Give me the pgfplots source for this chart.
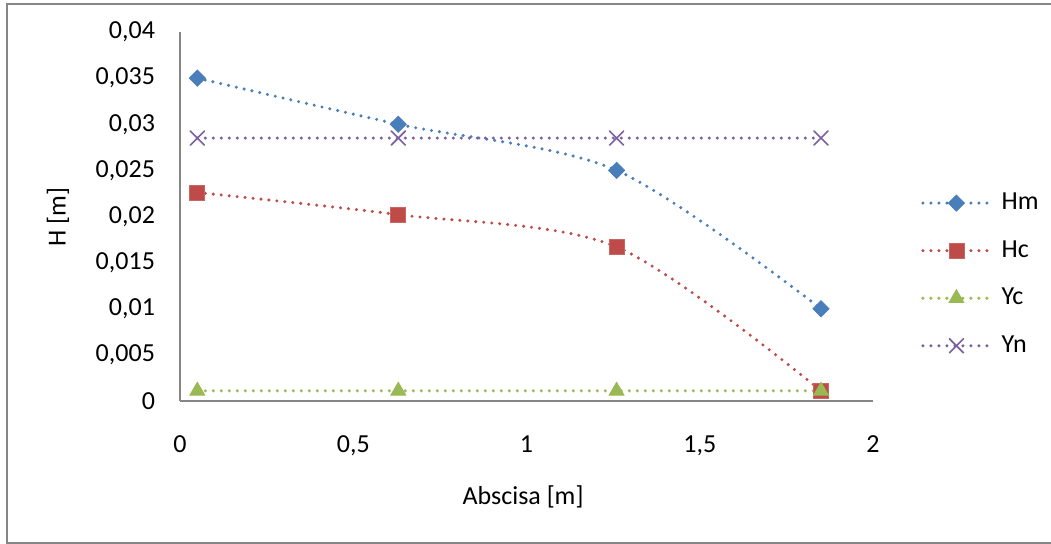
\documentclass[border=0pt]{standalone}
\usepackage{fontspec}
\setmainfont{Carlito}
\usepackage{pgfplots}
\pgfplotsset{compat=1.18}

\definecolor{hmblue}{HTML}{4A7EBB}
\definecolor{hcred}{HTML}{BE4B48}
\definecolor{ycgreen}{HTML}{98B954}
\definecolor{ynpurple}{HTML}{7D60A0}
\definecolor{frame}{HTML}{868686}

\pgfplotsset{
  dots/.style={line width=1.7pt, line cap=round, dash pattern=on 0pt off 4pt},
}

\begin{document}
\fontsize{13}{15.6}\selectfont
\begin{tikzpicture}
  \useasboundingbox (0,0) rectangle (525.5pt,-272pt);
  % chart frame
  \draw[frame, line width=1pt] (530pt,-2.25pt) -- (3.25pt,-2.25pt) -- (3.25pt,-271.5pt) -- (530pt,-271.5pt);
  \begin{axis}[
    at={(90pt,-200.5pt)}, anchor=south west,
    scale only axis,
    width=346.5pt, height=184.5pt,
    xmin=0, xmax=2, ymin=0, ymax=0.04,
    xtick={0,0.5,1,1.5,2},
    ytick={0,0.005,0.01,0.015,0.02,0.025,0.03,0.035,0.04},
    scaled y ticks=false, scaled x ticks=false,
    /pgf/number format/.cd, use comma, fixed, precision=3, assume math mode=true, /pgfplots/.cd,
    axis x line*=bottom, axis y line*=left,
    axis line style={frame, line width=0.6pt, -},
    tick style={draw=none},
    ticklabel style={font=\fontsize{13}{15.6}\selectfont},
    yticklabel style={xshift=-8pt},
    xticklabel style={yshift=-13pt},
    xlabel={Abscisa [m]},
    ylabel={H [m]},
    xlabel style={at={(axis description cs:0.495,-0.26)}, anchor=center, font=\fontsize{13}{15.6}\selectfont},
    ylabel style={at={(axis description cs:-0.176,0.499)}, anchor=center, font=\fontsize{13}{15.6}\selectfont},
    clip=false,
    legend style={at={(axis description cs:1.069,0.343)}, anchor=west, draw=none, fill=none,
      font=\fontsize{13}{15.6}\selectfont, row sep=9.5pt, inner sep=0pt},
    legend cell align=left,
    legend image code/.code={\draw[#1, mark repeat=2, mark phase=2, sharp plot]
      plot coordinates {(0pt,0pt) (16.75pt,0pt) (33.5pt,0pt)};
      \path (36.5pt,0pt);},
    every axis plot/.append style={smooth, tension=0.5},
  ]
    \addplot[hmblue, dots, mark=square*, mark size=2.85pt,
      mark options={solid, rotate=45, fill=hmblue, draw=hmblue, line width=0.4pt}]
      coordinates {(0.05,0.035) (0.63,0.030) (1.26,0.025) (1.85,0.010)};
    \addlegendentry{Hm}
    \addplot[hcred, dots, mark=square*, mark size=3.75pt,
      mark options={solid, fill=hcred, draw=hcred!85!white, line width=0.4pt}]
      coordinates {(0.05,0.0226) (0.63,0.0202) (1.26,0.0167) (1.85,0.0011)};
    \addlegendentry{Hc}
    \addplot[ycgreen, dots, mark=triangle*, mark size=4.3pt,
      mark options={solid, fill=ycgreen, draw=ycgreen, line width=0.4pt}]
      coordinates {(0.05,0.0011) (0.63,0.0011) (1.26,0.0011) (1.85,0.0011)};
    \addlegendentry{Yc}
    \addplot[ynpurple, dots, mark=x, mark size=5pt,
      mark options={solid, line width=0.8pt}]
      coordinates {(0.05,0.0285) (0.63,0.0285) (1.26,0.0285) (1.85,0.0285)};
    \addlegendentry{Yn}
  \end{axis}
\end{tikzpicture}
\end{document}
